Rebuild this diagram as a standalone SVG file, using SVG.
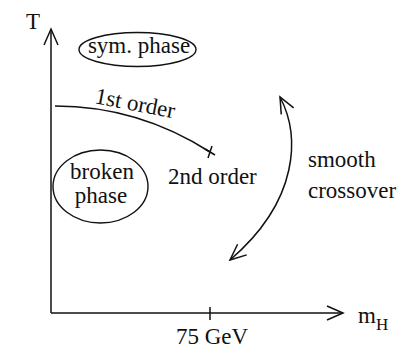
<svg xmlns="http://www.w3.org/2000/svg" width="399" height="353" viewBox="0 0 399 353">
<style>
text{font-family:"Liberation Serif","Times New Roman",serif;font-size:23px;fill:#111}
.ln{fill:none;stroke:#111;stroke-width:1.5}
.el{fill:none;stroke:#111;stroke-width:1.4}
</style>
<defs>
<marker id="ah" viewBox="0 0 22 22" refX="20" refY="11" markerWidth="22" markerHeight="22" markerUnits="userSpaceOnUse" orient="auto-start-reverse">
<path d="M4,4 L20,11 L4,18" fill="none" stroke="#111" stroke-width="1.5"/>
</marker>
</defs>
<g id="axes">
<path class="ln" d="M51,313 L51,29" marker-end="url(#ah)"/>
<path class="ln" d="M51,313 L343,313" marker-end="url(#ah)"/>
<path class="ln" d="M210,307 L210,320"/>
<text x="26" y="29">T</text>
<text x="176" y="344">75 GeV</text>
<text x="358" y="323">m<tspan font-size="17" dy="7">H</tspan></text>
</g>
<g id="sym-phase">
<ellipse class="el" cx="137.5" cy="49.5" rx="58.5" ry="17"/>
<text x="139" y="53" text-anchor="middle">sym. phase</text>
</g>
<g id="broken-phase">
<ellipse class="el" cx="100.5" cy="186.5" rx="47.5" ry="36.5"/>
<text x="102" y="179" text-anchor="middle" font-size="22">broken</text>
<text x="101" y="203" text-anchor="middle" font-size="22">phase</text>
</g>
<g id="connectors">
<path class="ln" d="M55,106 C110,106 160,120 210,152"/>
<path class="ln" d="M205,149 L215,155 M212,146 L208,158" stroke-width="1.2"/>
<path class="ln" d="M280,97 C300,135 300,200 230,260" marker-start="url(#ah)" marker-end="url(#ah)"/>
</g>
<g id="labels">
<text x="0" y="0" transform="translate(94,103) rotate(11)">1st order</text>
<text x="168" y="184">2nd order</text>
<text x="308" y="167">smooth</text>
<text x="308" y="198">crossover</text>
</g>
</svg>
